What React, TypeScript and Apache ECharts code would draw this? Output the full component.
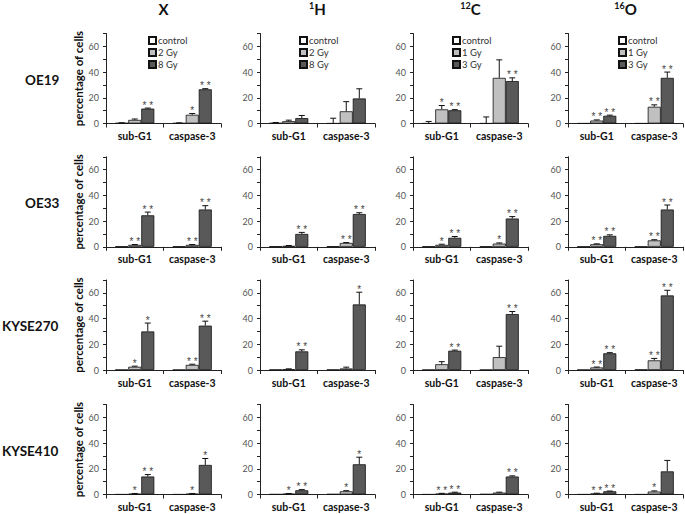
import React, { useEffect, useRef } from 'react';
import * as echarts from 'echarts';

// ---------- data ----------
const categories = ['sub-G1', 'caspase-3'];
const radiations = [
  { sup: '', main: 'X' },
  { sup: '1', main: 'H' },
  { sup: '12', main: 'C' },
  { sup: '16', main: 'O' },
];
const cellLines = ['OE19', 'OE33', 'KYSE270', 'KYSE410'];
const doseNamesXH = ['control', '2 Gy', '8 Gy'];
const doseNamesCO = ['control', '1 Gy', '3 Gy'];
const doseNames = [doseNamesXH, doseNamesXH, doseNamesCO, doseNamesCO];

// [radiation][dose][category]
const OE19_mean = [
  [[0.4, 0.3], [2.8, 6.8], [11.6, 26.6]],
  [[0.4, 0.1], [1.8, 9.5], [4.2, 19.5]],
  [[0.1, 0.1], [11.0, 35.5], [10.3, 33.0]],
  [[0.1, 0.1], [2.3, 13.0], [6.0, 35.5]],
];
const OE19_err = [
  [[0.2, 0.2], [0.7, 1.0], [0.4, 0.5]],
  [[0.4, 4.0], [0.8, 7.5], [2.0, 7.5]],
  [[1.5, 5.0], [3.0, 14.0], [0.5, 2.5]],
  [[0, 0], [0.5, 1.5], [0.5, 4.5]],
];
const OE19_sig = [
  [['', ''], ['', '*'], ['**', '**']],
  [['', ''], ['', ''], ['', '']],
  [['', ''], ['*', ''], ['**', '**']],
  [['', ''], ['**', '**'], ['**', '**']],
];

const OE33_mean = [
  [[0.2, 0.2], [1.5, 1.5], [24.5, 29.0]],
  [[0.3, 0.3], [0.7, 3.0], [10.0, 25.5]],
  [[0.2, 0.2], [1.5, 2.5], [7.0, 22.0]],
  [[0.1, 0.1], [2.0, 5.0], [8.5, 29.0]],
];
const OE33_err = [
  [[0, 0], [0.3, 0.3], [2.5, 3.0]],
  [[0, 0], [0.3, 0.3], [1.2, 1.0]],
  [[0, 0], [0.5, 0.5], [1.0, 1.5]],
  [[0, 0], [0.3, 0.5], [0.8, 3.5]],
];
const OE33_sig = [
  [['', ''], ['**', '**'], ['**', '**']],
  [['', ''], ['', '**'], ['**', '**']],
  [['', ''], ['*', '*'], ['**', '**']],
  [['', ''], ['**', '**'], ['**', '**']],
];

const KYSE270_mean = [
  [[0.1, 0.1], [2.5, 4.0], [30.0, 34.5]],
  [[0.2, 0.2], [0.6, 1.2], [14.5, 51.0]],
  [[0.1, 0.1], [4.5, 10.0], [15.0, 43.5]],
  [[0.1, 0.3], [2.0, 7.5], [13.0, 58.0]],
];
const KYSE270_err = [
  [[0, 0], [0.5, 0.5], [6.5, 3.5]],
  [[0, 0], [0.3, 1.0], [1.2, 9.5]],
  [[0, 0], [2.0, 8.5], [0.5, 2.0]],
  [[0, 0], [0.3, 1.5], [0.5, 4.0]],
];
const KYSE270_sig = [
  [['', ''], ['*', '**'], ['*', '**']],
  [['', ''], ['', ''], ['**', '*']],
  [['', ''], ['', ''], ['**', '**']],
  [['', ''], ['**', '**'], ['**', '**']],
];

const KYSE410_mean = [
  [[0.1, 0.1], [0.6, 0.6], [14.0, 23.0]],
  [[0.2, 0.3], [0.6, 2.5], [3.3, 23.5]],
  [[0.1, 0.3], [0.7, 1.5], [1.5, 14.0]],
  [[0.1, 0.1], [0.8, 2.3], [2.5, 18.0]],
];
const KYSE410_err = [
  [[0, 0], [0.2, 0.2], [1.5, 5.0]],
  [[0, 0], [0.2, 0.5], [0.5, 5.5]],
  [[0, 0], [0.2, 0.3], [0.3, 0.5]],
  [[0, 0], [0.2, 0.5], [0.2, 8.5]],
];
const KYSE410_sig = [
  [['', ''], ['*', '*'], ['**', '*']],
  [['', ''], ['*', '*'], ['**', '*']],
  [['', ''], ['**', ''], ['**', '**']],
  [['', ''], ['**', '*'], ['**', '']],
];

const yTicks = [0, 20, 40, 60];

// ---------- layout / styles ----------
const FONT = 'Lato';
const colLeft = [106, 260, 413, 568];
const rowTop = [33.5, 156.8, 280, 404.5];
const gridW = 115;
const gridH = 90;
const rowLabelX = [25, 25, 2, 2];
const legendLeft = [143, 294, 447, 613];
const doseColors = ['#ffffff', '#c0c0c0', '#595959'];
const CAT_GAP = 0.32;

const means = [OE19_mean, OE33_mean, KYSE270_mean, KYSE410_mean];
const errs = [OE19_err, OE33_err, KYSE270_err, KYSE410_err];
const sigs = [OE19_sig, OE33_sig, KYSE270_sig, KYSE410_sig];

function buildOption() {
  const grid: any[] = [];
  const xAxis: any[] = [];
  const yAxis: any[] = [];
  const series: any[] = [];
  const graphic: any[] = [];
  const legend: any[] = [];

  for (let r = 0; r < 4; r++) {
    for (let c = 0; c < 4; c++) {
      const idx = r * 4 + c;
      grid.push({ left: colLeft[c], top: rowTop[r], width: gridW, height: gridH });
      xAxis.push({
        gridIndex: idx,
        type: 'category',
        data: categories,
        axisLine: { lineStyle: { color: '#222', width: 1 } },
        axisTick: { show: true, length: 4, lineStyle: { color: '#222' } },
        axisLabel: { interval: 0, fontSize: 10.5, fontWeight: 'bold', color: '#111', margin: 7, fontFamily: FONT },
        splitLine: { show: false },
      });
      yAxis.push({
        gridIndex: idx,
        type: 'value',
        min: 0,
        max: 70,
        interval: 10,
        name: c === 0 ? 'percentage of cells' : '',
        nameLocation: 'middle',
        nameGap: 17,
        nameTextStyle: { fontSize: 11.5, fontWeight: 'bold', color: '#111', fontFamily: FONT },
        axisLine: { show: true, lineStyle: { color: '#222', width: 1 } },
        axisTick: { show: true, length: 3, lineStyle: { color: '#222' } },
        axisLabel: {
          fontSize: 9,
          color: '#555',
          margin: 7,
          fontFamily: FONT,
          formatter: (v: number) => (yTicks.indexOf(v) >= 0 ? String(v) : ''),
        },
        splitLine: { show: false },
      });

      const m = means[r][c];
      const e = errs[r][c];
      const s = sigs[r][c];
      for (let d = 0; d < 3; d++) {
        series.push({
          type: 'bar',
          name: doseNames[c][d],
          xAxisIndex: idx,
          yAxisIndex: idx,
          data: m[d],
          barGap: '0%',
          barCategoryGap: CAT_GAP * 100 + '%',
          itemStyle: { color: doseColors[d], borderColor: '#111', borderWidth: 0.8 },
          z: 2,
        });
      }
      const errData: number[][] = [];
      const errSig: string[] = [];
      for (let d = 0; d < 3; d++) {
        for (let k = 0; k < 2; k++) {
          errData.push([k, m[d][k], e[d][k], d]);
          errSig.push(s[d][k]);
        }
      }
      series.push({
        type: 'custom',
        xAxisIndex: idx,
        yAxisIndex: idx,
        data: errData,
        encode: { x: 0, y: 1 },
        z: 5,
        renderItem: (params: any, api: any) => {
          const cat = api.value(0);
          const mean = api.value(1);
          const err = api.value(2);
          const dose = api.value(3);
          const band = api.size([1, 0])[0];
          const barW = (band * (1 - CAT_GAP)) / 3;
          const p0 = api.coord([cat, mean]);
          const p1 = api.coord([cat, mean + err]);
          const x = p0[0] + (dose - 1) * barW;
          const children: any[] = [];
          if (err > 0) {
            children.push({
              type: 'line',
              shape: { x1: x, y1: p0[1], x2: x, y2: p1[1] },
              style: { stroke: '#111', lineWidth: 1 },
            });
            children.push({
              type: 'line',
              shape: { x1: x - 3, y1: p1[1], x2: x + 3, y2: p1[1] },
              style: { stroke: '#111', lineWidth: 1 },
            });
          }
          const sg = errSig[params.dataIndex];
          if (sg) {
            children.push({
              type: 'text',
              x: x,
              y: p1[1] - 3,
              style: {
                text: sg.split('').join(' '),
                fill: '#444',
                font: '10px "Liberation Sans"',
                align: 'center',
                verticalAlign: 'middle',
              },
            });
          }
          return { type: 'group', children };
        },
      });
    }
  }

  for (let c = 0; c < 4; c++) {
    legend.push({
      data: doseNames[c],
      orient: 'vertical',
      left: legendLeft[c],
      top: 30,
      icon: 'rect',
      itemWidth: 7,
      itemHeight: 7,
      itemGap: 1,
      selectedMode: false,
      textStyle: { fontSize: 9.5, color: '#333', fontFamily: FONT, padding: [0, 0, 0, -3], lineHeight: 11 },
    });
    const rad = radiations[c];
    graphic.push({
      type: 'text',
      x: colLeft[c] + gridW / 2,
      y: 9,
      style: {
        text: rad.sup ? '{s|' + rad.sup + '}{m|' + rad.main + '}' : '{m|' + rad.main + '}',
        align: 'center',
        verticalAlign: 'middle',
        rich: {
          s: { fontSize: 9, fontWeight: 'bold', fontFamily: FONT, fill: '#111', verticalAlign: 'top', lineHeight: 16 },
          m: { fontSize: 15, fontWeight: 'bold', fontFamily: FONT, fill: '#111', lineHeight: 16 },
        },
      },
    });
  }

  for (let r = 0; r < 4; r++) {
    graphic.push({
      type: 'text',
      x: rowLabelX[r],
      y: rowTop[r] + gridH / 2 + 1,
      style: {
        text: cellLines[r],
        fill: '#111',
        font: 'bold 13.5px ' + FONT,
        align: 'left',
        verticalAlign: 'middle',
      },
    });
  }

  return {
    animation: false,
    backgroundColor: '#ffffff',
    textStyle: { fontFamily: FONT },
    grid,
    xAxis,
    yAxis,
    legend,
    series,
    graphic,
  };
}

export default function App() {
  const ref = useRef<HTMLDivElement>(null);
  useEffect(() => {
    document.body.style.margin = '0';
    const chart = echarts.init(ref.current as HTMLDivElement, null, { renderer: 'svg' });
    chart.setOption(buildOption() as any);
    return () => {
      chart.dispose();
    };
  }, []);
  return <div ref={ref} style={{ width: 685, height: 514 }} />;
}
